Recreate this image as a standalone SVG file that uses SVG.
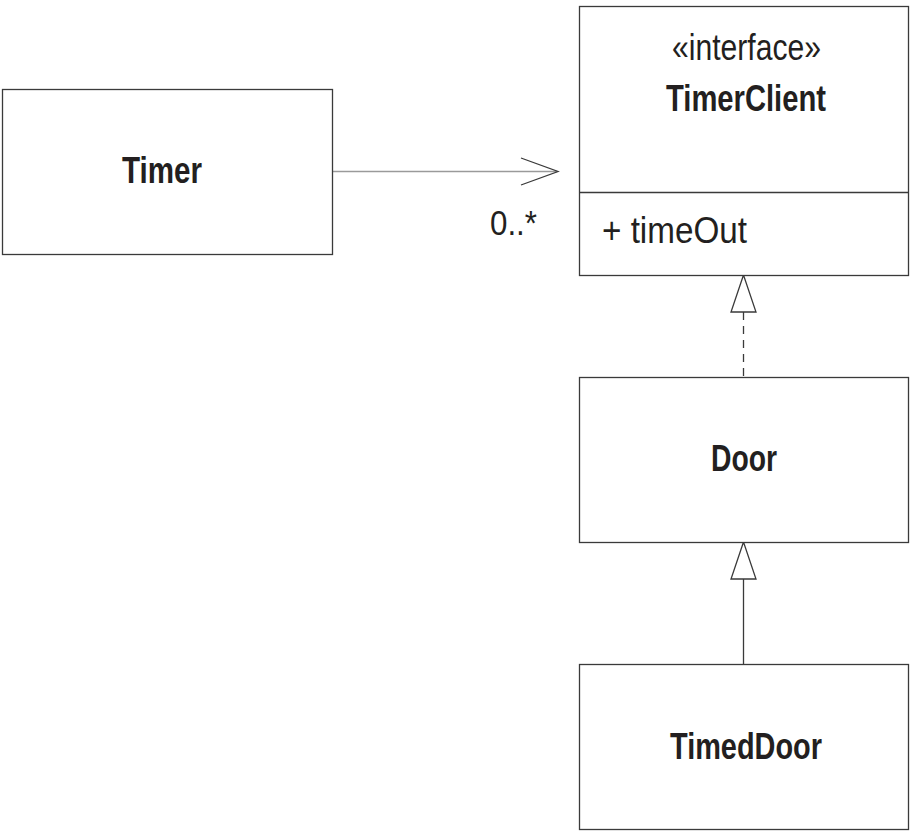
<svg xmlns="http://www.w3.org/2000/svg" width="916" height="840" viewBox="0 0 916 840">
<style>
.box{fill:#fff;stroke:#3a3a3a;stroke-width:1.3}
.t{font-family:"Liberation Sans Narrow","Liberation Sans",Arial,sans-serif;fill:#231f20}
.b{font-weight:bold;font-size:36px}
.r{font-size:37px}
.ln{stroke:#3a3a3a;stroke-width:1.3;fill:none}
</style>
<g id="connectors">
<line x1="332" y1="171.5" x2="557" y2="171.5" stroke="#9a9a9a" stroke-width="1.3"/>
<polyline class="ln" points="521,158 558,171.5 521,185"/>
<polygon class="ln" points="743.5,275 731,312 756,312" fill="#fff"/>
<line class="ln" x1="743.5" y1="312" x2="743.5" y2="377" stroke-dasharray="8,6"/>
<polygon class="ln" points="743.5,542 731,579 756,579" fill="#fff"/>
<line class="ln" x1="743.5" y1="579" x2="743.5" y2="664"/>
<text class="t" x="490" y="235" font-size="35" textLength="47" lengthAdjust="spacingAndGlyphs">0..*</text>
</g>
<g id="Timer">
<rect class="box" x="2.5" y="89.5" width="330" height="165"/>
<text class="t b" x="122" y="183" textLength="80" lengthAdjust="spacingAndGlyphs">Timer</text>
</g>
<g id="TimerClient">
<rect class="box" x="579.5" y="6.5" width="329" height="269"/>
<line class="ln" x1="579.5" y1="192.5" x2="908.5" y2="192.5"/>
<text class="t r" x="672" y="60" textLength="149" lengthAdjust="spacingAndGlyphs">«interface»</text>
<text class="t b" x="666" y="111" textLength="160" lengthAdjust="spacingAndGlyphs">TimerClient</text>
<text class="t r" x="602" y="243" textLength="145" lengthAdjust="spacingAndGlyphs">+ timeOut</text>
</g>
<g id="Door">
<rect class="box" x="579.5" y="377.5" width="329" height="165"/>
<text class="t b" x="711" y="471" textLength="66" lengthAdjust="spacingAndGlyphs">Door</text>
</g>
<g id="TimedDoor">
<rect class="box" x="579.5" y="664.5" width="329" height="165"/>
<text class="t b" x="670" y="759" textLength="152" lengthAdjust="spacingAndGlyphs">TimedDoor</text>
</g>
</svg>
